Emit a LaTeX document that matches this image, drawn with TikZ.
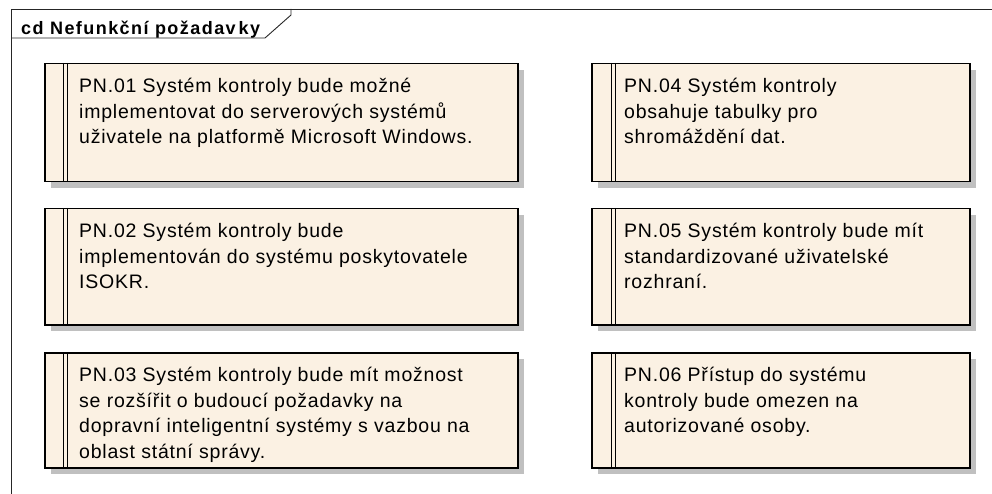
\documentclass[tikz,border=0pt]{standalone}
\usepackage{fontspec}
\setmainfont{Liberation Sans}
\newfontfamily\reqfont[LetterSpace=4]{Liberation Sans}
\newfontfamily\titlefont[LetterSpace=8]{Liberation Sans}
\usetikzlibrary{shadows}
\definecolor{reqfill}{RGB}{251,241,227}
\definecolor{reqshadow}{RGB}{192,192,192}
\tikzset{
  reqbox/.style={draw=black, line width=1.5pt, fill=reqfill, anchor=north west,
    inner sep=0pt, drop shadow={shadow xshift=6pt, shadow yshift=-6pt,
    fill=reqshadow, opacity=1}},
  reqtext/.style={anchor=base west, inner sep=0pt,
    font=\reqfont\fontsize{19.5}{25.5}\selectfont},
  reqbar/.style={draw=black, line width=0.9pt},
  frameline/.style={draw=black!85, line width=0.9pt},
  titletext/.style={anchor=base west, inner sep=0pt,
    font=\titlefont\bfseries\fontsize{18}{21}\selectfont}
}
\newcommand\reqlines[1]{\begin{tabular}[t]{@{}l@{}}#1\end{tabular}}
\begin{document}
\begin{tikzpicture}[x=1pt,y=-1pt]
  \useasboundingbox (0,0) rectangle (992,494);
  % diagram frame with its name tab
  \draw[frameline] (992,9) -- (11,9) -- (11,494);
  \draw[frameline] (11,38) -- (265,38) -- (291,15) -- (291,9);
  \node[titletext] (title) at (21,35) {cd Nefunkční požadav\kern3pt ky};

  % requirement boxes: left column
  \node[reqbox, minimum width=473pt, minimum height=118pt] (pn01) at (44,63) {};
  \node[reqbox, minimum width=473pt, minimum height=116pt] (pn02) at (44,208) {};
  \node[reqbox, minimum width=473pt, minimum height=115pt] (pn03) at (44,352) {};
  % requirement boxes: right column
  \node[reqbox, minimum width=378pt, minimum height=118pt] (pn04) at (591,63) {};
  \node[reqbox, minimum width=378pt, minimum height=116pt] (pn05) at (591,208) {};
  \node[reqbox, minimum width=378pt, minimum height=115pt] (pn06) at (591,352) {};

  % double stripe at the left of each box
  \foreach \b/\d in {pn01/19, pn02/19, pn03/19, pn04/20, pn05/20, pn06/20}{
    \draw[reqbar] ([xshift=\d pt]\b.north west) -- ([xshift=\d pt]\b.south west);
    \draw[reqbar] ([xshift=\d pt+4pt]\b.north west) -- ([xshift=\d pt+4pt]\b.south west);
  }

  \node[reqtext] (t01) at ([xshift=35pt,yshift=-29.7pt]pn01.north west)
    {\reqlines{PN.01 Systém kontroly bude možné\\
      implementovat do serverových systémů\\
      uživatele na platformě Microsoft Windows.}};
  \node[reqtext] (t02) at ([xshift=35pt,yshift=-29.7pt]pn02.north west)
    {\reqlines{PN.02 Systém kontroly bude\\
      implementován do systému poskytovatele\\
      ISOKR.}};
  \node[reqtext] (t03) at ([xshift=35pt,yshift=-29.7pt]pn03.north west)
    {\reqlines{PN.03 Systém kontroly bude mít možnost\\
      se rozšířit o budoucí požadavky na\\
      dopravní inteligentní systémy s vazbou na\\
      oblast státní správy.}};
  \node[reqtext] (t04) at ([xshift=33pt,yshift=-29.7pt]pn04.north west)
    {\reqlines{PN.04 Systém kontroly\\
      obsahuje tabulky pro\\
      shromáždění dat.}};
  \node[reqtext] (t05) at ([xshift=33pt,yshift=-29.7pt]pn05.north west)
    {\reqlines{PN.05 Systém kontroly bude mít\\
      standardizované uživatelské\\
      rozhraní.}};
  \node[reqtext] (t06) at ([xshift=33pt,yshift=-29.7pt]pn06.north west)
    {\reqlines{PN.06 Přístup do systému\\
      kontroly bude omezen na\\
      autorizované osoby.}};
\end{tikzpicture}
\end{document}
